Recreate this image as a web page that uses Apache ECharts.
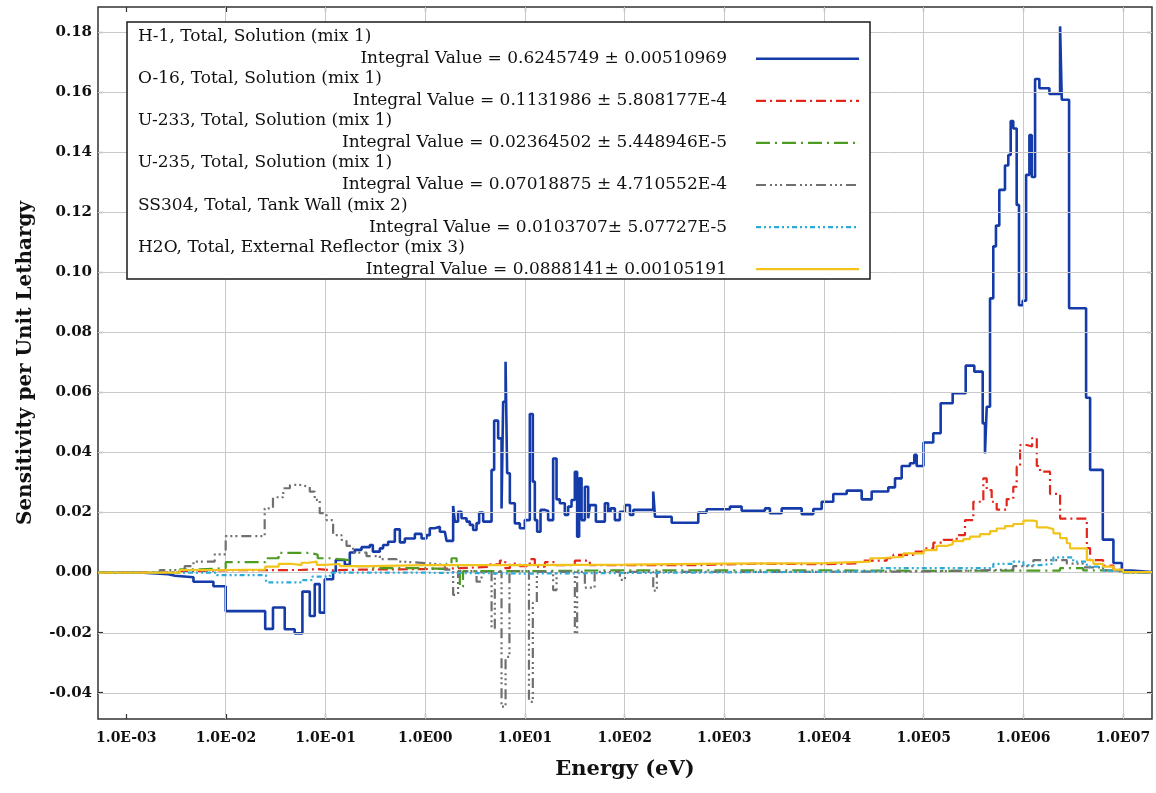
<!DOCTYPE html>
<html>
<head>
<meta charset="utf-8">
<script src="https://cdn.jsdelivr.net/npm/echarts/dist/echarts.min.js"></script>
<style>
html,body{margin:0;padding:0;background:#ffffff;}
#chart{width:1156px;height:793px;}
</style>
</head>
<body>
<div id="chart"></div>
<script>
// ---------- tick values / labels ----------
const energyTickExponents = [-3, -2, -1, 0, 1, 2, 3, 4, 5, 6, 7];
const energyTicks = [1e-3, 1e-2, 1e-1, 1e0, 1e1, 1e2, 1e3, 1e4, 1e5, 1e6, 1e7];
const energyTickLabels = ['1.0E-03','1.0E-02','1.0E-01','1.0E00','1.0E01','1.0E02','1.0E03','1.0E04','1.0E05','1.0E06','1.0E07'];
const sensTicks = [-0.04, -0.02, 0, 0.02, 0.04, 0.06, 0.08, 0.10, 0.12, 0.14, 0.16, 0.18];
const sensTickLabels = ['-0.04','-0.02','0.00','0.02','0.04','0.06','0.08','0.10','0.12','0.14','0.16','0.18'];

// ---------- legend texts ----------
const seriesNames = [
  'H-1, Total, Solution (mix 1)',
  'O-16, Total, Solution (mix 1)',
  'U-233, Total, Solution (mix 1)',
  'U-235, Total, Solution (mix 1)',
  'SS304, Total, Tank Wall (mix 2)',
  'H2O, Total, External Reflector (mix 3)'
];
const integralTexts = [
  'Integral Value = 0.6245749 \u00b1 0.00510969',
  'Integral Value = 0.1131986 \u00b1 5.808177E-4',
  'Integral Value = 0.02364502 \u00b1 5.448946E-5',
  'Integral Value = 0.07018875 \u00b1 4.710552E-4',
  'Integral Value = 0.0103707\u00b1 5.07727E-5',
  'Integral Value = 0.0888141\u00b1 0.00105191'
];

// ---------- data: [energy (eV), sensitivity per unit lethargy] (group lower edge, value) ----------
const h1 = [
[5.24e-4,0.0],[1.5e-3,-0.0005],[2.66e-3,-0.001],[3.1e-3,-0.0015],[4.75e-3,-0.003],[7.53e-3,-0.0045],
[1.0e-2,-0.0128],[2.49e-2,-0.0187],[2.98e-2,-0.0116],[3.91e-2,-0.0188],[4.92e-2,-0.0202],[5.88e-2,-0.0063],
[6.97e-2,-0.0144],[7.82e-2,-0.0038],[8.77e-2,-0.0133],[9.85e-2,-0.0022],[0.1195,0.0003],[0.127,0.0042],
[0.1566,0.0026],[0.1757,0.0067],[0.1972,0.0076],[0.2302,0.0085],[0.279,0.0092],[0.299,0.0070],
[0.3515,0.0081],[0.379,0.0092],[0.4256,0.0103],[0.497,0.0144],[0.558,0.0101],[0.626,0.0114],
[0.789,0.0129],[0.921,0.0114],[1.033,0.0125],[1.114,0.0148],[1.25,0.0153],[1.405,0.0136],
[1.577,0.0142],[1.64,0.0106],[1.91,0.0222],[1.986,0.0170],[2.143,0.0203],[2.318,0.0181],
[2.603,0.0170],[2.809,0.0159],[3.03,0.0142],[3.28,0.0165],[3.483,0.0200],[3.819,0.0170],
[4.637,0.0342],[4.925,0.0506],[5.40,0.0447],[5.843,0.0214],[6.062,0.0569],[6.41,0.0702],
[6.65,0.0331],[7.076,0.0231],[7.94,0.0164],[8.91,0.0148],[10.0,0.0175],[11.22,0.0528],
[12.03,0.0303],[12.6,0.0175],[13.29,0.0136],[14.37,0.0209],[15.87,0.0205],[17.13,0.0175],
[19.23,0.0380],[20.8,0.0244],[22.44,0.0231],[25.19,0.0192],[27.19,0.0220],[29.41,0.0242],
[31.74,0.0336],[33.47,0.0120],[35.06,0.0314],[37.07,0.0175],[40.0,0.0286],[43.17,0.0181],
[44.9,0.0225],[51.6,0.0170],[63.5,0.0231],[68.5,0.0203],[72.4,0.0214],[80.0,0.0175],
[89.8,0.0203],[101,0.0225],[113.3,0.0192],[122.3,0.0209],[194,0.0270],[202,0.0186],
[297,0.0166],[549,0.0200],[666,0.0211],[1141,0.0220],[1495,0.0206],[2560,0.0214],
[2874,0.0198],[3766,0.0214],[5978,0.0195],[7816,0.0212],[9489,0.0236],[1.24e4,0.0262],
[1.69e4,0.0273],[2.39e4,0.0244],[3.01e4,0.0270],[4.42e4,0.0284],[5.16e4,0.0314],[6.02e4,0.0355],
[7.29e4,0.0364],[8.05e4,0.0392],[8.51e4,0.0355],[9.96e4,0.0433],[1.248e5,0.0464],[1.481e5,0.0564],
[1.954e5,0.0597],[2.64e5,0.0689],[3.22e5,0.0669],[3.91e5,0.0497],[4.12e5,0.0397],[4.29e5,0.0552],
[4.63e5,0.0913],[4.99e5,0.1086],[5.31e5,0.1155],[5.735e5,0.1274],[6.54e5,0.1355],[7.06e5,0.1390],
[7.46e5,0.1503],[7.92e5,0.1478],[8.57e5,0.1224],[9.04e5,0.0890],[9.84e5,0.0905],[1.065e6,0.1324],
[1.149e6,0.1456],[1.214e6,0.1317],[1.31e6,0.1643],[1.447e6,0.1612],[1.824e6,0.1593],[2.334e6,0.1818],
[2.428e6,0.1574],[2.874e6,0.0880],[4.256e6,0.0582],[4.67e6,0.0342],[6.26e6,0.0110],[8.0e6,0.0032],
[9.71e6,0.0007],[1.223e7,0.0002],[1.95e7,0.0002]
];
const o16 = [
[5.24e-4,0],[2.37e-3,0.0005],[4.36e-3,0.0008],[1e-2,0.0009],[5.53e-2,0.0012],[8.18e-2,0.0008],
[0.1186,0.0010],[0.2213,0.0012],[1.0,0.0015],[2.23,0.0020],[4.46,0.0028],[5.62,0.0040],
[6.36,0.0015],[7.08,0.0030],[8.9,0.0022],[11.2,0.0045],[12.6,0.0020],[15.9,0.0035],
[20,0.0025],[31.7,0.0040],[44.9,0.0025],[101,0.0025],[571,0.0030],[2281,0.0028],
[1e4,0.0031],[2.3e4,0.0040],[4.26e4,0.0048],[4.96e4,0.0059],[7.87e4,0.0070],[1e5,0.0081],
[1.25e5,0.0100],[1.574e5,0.0109],[2.144e5,0.0125],[2.596e5,0.0175],[3.148e5,0.0236],[3.968e5,0.0314],
[4.29e5,0.0275],[4.81e5,0.0236],[5.4e5,0.0210],[6.8e5,0.0245],[7.92e5,0.0286],[8.57e5,0.0353],
[9.27e5,0.0425],[1.082e6,0.0420],[1.223e6,0.0448],[1.363e6,0.0355],[1.47e6,0.0336],[1.85e6,0.0262],
[2.334e6,0.0180],[4.33e6,0.0082],[4.67e6,0.0042],[6.3e6,0.0024],[8.0e6,0.0010],[1e7,0.0002],[1.95e7,0.0002]
];
const u233 = [
[5.24e-4,0],[3.46e-3,0.0011],[5.49e-3,0.0015],[1e-2,0.0035],[2.49e-2,0.0048],[3.39e-2,0.0066],
[6.97e-2,0.0060],[8.37e-2,0.0048],[0.1107,0.0042],[0.1757,0.0022],[0.279,0.0015],[1,0.0012],
[1.64,0.0030],[1.84,0.0048],[2.07,0.0020],[2.23,-0.0047],[2.4,0.0005],[10,0.0008],
[100,0.0008],[1e4,0.0006],[1e5,0.0007],[2.33e6,0.0015],[3.97e6,0.0008],[8e6,0.0003],[1e7,0],[1.95e7,0]
];
const u235 = [
[5.24e-4,0],[2.18e-3,0.0009],[3.88e-3,0.0022],[4.75e-3,0.0037],[7.76e-3,0.0061],[1.0e-2,0.0122],
[2.46e-2,0.0214],[2.98e-2,0.0251],[3.78e-2,0.0281],[4.41e-2,0.0292],[5.53e-2,0.0286],[6.97e-2,0.0270],
[7.82e-2,0.0242],[8.77e-2,0.0198],[0.1026,0.0175],[0.1195,0.0125],[0.145,0.0109],[0.1628,0.0089],
[0.1896,0.0067],[0.2584,0.0055],[0.3515,0.0045],[0.517,0.0037],[0.58,0.0031],[1.114,0.0026],
[1.577,0.0010],[1.91,-0.0074],[2.14,0.0005],[3.28,-0.0030],[3.68,0.0003],[4.64,-0.0185],
[5.0,0.0003],[5.84,-0.0446],[6.41,-0.0280],[7.01,0.0005],[11.0,-0.0430],[12.03,-0.0100],
[13.2,0.0003],[19.23,-0.0058],[20.8,0.0003],[31.74,-0.0202],[33.47,0.0003],[40,-0.0050],
[50.1,0.0003],[89.8,-0.0024],[101,0.0003],[194,-0.0060],[211,0.0003],[1e4,0.0004],
[1e5,0.0010],[7.92e5,0.0022],[1.26e6,0.0042],[2.725e6,0.0030],[3.97e6,0.0018],[6.3e6,0.0008],[1e7,0],[1.95e7,0]
];
const ss304 = [
[5.24e-4,0],[8.13e-3,-0.0008],[2.54e-2,-0.0032],[5.92e-2,-0.0025],[7.41e-2,-0.0013],[0.1107,0],
[1,-0.0003],[10,0.0003],[1e4,0.0005],[3.65e4,0.0015],[4.99e5,0.0029],[7.92e5,0.0037],
[1e6,0.0025],[1.47e6,0.0030],[2e6,0.0051],[3.16e6,0.0037],[4.33e6,0.0020],[6.3e6,0.0007],[1e7,0],[1.95e7,0]
];
const h2o = [
[5.24e-4,0],[3.46e-3,0.0009],[1e-2,0.0010],[2.49e-2,0.0020],[3.39e-2,0.0029],[4.72e-2,0.0025],
[5.75e-2,0.0033],[6.76e-2,0.0037],[8.18e-2,0.0026],[9.85e-2,0.0029],[0.1394,0.0022],[0.279,0.0025],
[1,0.0025],[10,0.0027],[100,0.0030],[1000,0.0032],[1e4,0.0037],[2.9e4,0.0048],
[3.65e4,0.0053],[6.25e4,0.0064],[1e5,0.0075],[1.35e5,0.0089],[1.7e5,0.0095],[1.96e5,0.0105],
[2.5e5,0.0112],[2.91e5,0.0120],[3.67e5,0.0128],[4.63e5,0.0138],[5.4e5,0.0147],[6.54e5,0.0155],
[7.92e5,0.0162],[1e6,0.0173],[1.26e6,0.0172],[1.363e6,0.0151],[1.714e6,0.0145],[2e6,0.0131],
[2.334e6,0.0115],[2.725e6,0.0098],[2.94e6,0.0081],[4.33e6,0.0042],[5.04e6,0.0029],[6.3e6,0.0020],
[8e6,0.0010],[1e7,0.0002],[1.95e7,0.0002]
];

const seriesData = [h1, o16, u233, u235, ss304, h2o];
const seriesColors = ['#143ba8', '#e3261b', '#4c9c24', '#707070', '#2eaad8', '#f2c31a'];
const seriesWidths = [2.6, 2.2, 2.2, 2.2, 2.2, 2.2];
const seriesDash = ['solid', [10, 4, 2, 4], [14, 5, 2, 5], [10, 4, 2, 3, 2, 3, 2, 4], [5, 3, 2, 3, 2, 3], 'solid'];

// ---------- geometry ----------
const W = 1156, H = 793;
const frame = { left: 98, right: 1152, top: 7, bottom: 719 };
const tickBox = { left: 126.3, right: 1123, top: 31.8, bottom: 692.7 };
const FONT = '"DejaVu Serif", "Liberation Serif", serif';

const chart = echarts.init(document.getElementById('chart'), null, { renderer: 'canvas' });

const series = [];
// gridlines (drawn through the frame axes)
series.push({
  type: 'line', xAxisIndex: 0, yAxisIndex: 0, data: [], silent: true, z: 1,
  markLine: {
    silent: true, symbol: 'none', animation: false,
    label: { show: false },
    lineStyle: { color: '#c9c9c9', width: 1, type: 'solid' },
    data: energyTicks.map(e => ({ xAxis: e })).concat(sensTicks.map(v => ({ yAxis: v })))
  }
});
seriesData.forEach((d, i) => {
  series.push({
    type: 'line', name: seriesNames[i], data: d, step: 'end',
    xAxisIndex: 0, yAxisIndex: 0, showSymbol: false, symbol: 'none',
    lineStyle: { color: seriesColors[i], width: seriesWidths[i], type: seriesDash[i] },
    z: 3 + i, animation: false
  });
});

// legend box
const LEG_FONT = '17px ' + FONT;
const legendElems = [{
  type: 'rect', shape: { x: 127, y: 22, width: 743, height: 257 },
  style: { fill: '#ffffff', stroke: '#1a1a1a', lineWidth: 1.5 }, z: 100
}];
seriesNames.forEach((n, i) => {
  const y0 = 36.7 + 42.1 * i;
  legendElems.push({
    type: 'text', z: 101,
    style: { text: n, x: 138, y: y0, font: LEG_FONT, fill: '#111',
      textAlign: 'left', align: 'left', textVerticalAlign: 'middle', verticalAlign: 'middle' }
  });
  legendElems.push({
    type: 'text', z: 101,
    style: { text: integralTexts[i], x: 727, y: y0 + 22, font: LEG_FONT, fill: '#111',
      textAlign: 'right', align: 'right', textVerticalAlign: 'middle', verticalAlign: 'middle' }
  });
  legendElems.push({
    type: 'line', z: 101,
    shape: { x1: 756, y1: y0 + 22, x2: 859, y2: y0 + 22 },
    style: { stroke: seriesColors[i], lineWidth: seriesWidths[i],
      lineDash: Array.isArray(seriesDash[i]) ? seriesDash[i] : null }
  });
});

const tickLabelFont = { fontFamily: FONT, fontWeight: 'bold', color: '#111' };
const tickStyle = { show: true, inside: true, length: 5, lineStyle: { color: '#333', width: 1.2 } };
const hiddenLine = { show: false, onZero: false };
const expMin = energyTickExponents[0], expMax = energyTickExponents[energyTickExponents.length - 1];

const option = {
  backgroundColor: '#ffffff',
  animation: false,
  grid: [
    { left: frame.left, right: W - frame.right, top: frame.top, bottom: H - frame.bottom,
      show: true, borderColor: '#333', borderWidth: 1.5, backgroundColor: 'transparent' },
    { left: tickBox.left, right: W - tickBox.right, top: tickBox.top, bottom: H - tickBox.bottom, show: false }
  ],
  xAxis: [
    { type: 'log', logBase: 10, gridIndex: 0, min: 5.24e-4, max: 1.95e7,
      axisLine: hiddenLine, axisTick: { show: false }, axisLabel: { show: false }, splitLine: { show: false },
      name: 'Energy (eV)', nameLocation: 'middle', nameGap: 40,
      nameTextStyle: { fontFamily: FONT, fontWeight: 'bold', fontSize: 21, color: '#111' } },
    // decade labels: axis over log10(E), one tick per decade
    { type: 'value', gridIndex: 1, min: expMin, max: expMax, interval: 1,
      position: 'bottom', offset: frame.bottom - tickBox.bottom,
      axisLine: hiddenLine, splitLine: { show: false }, axisTick: tickStyle,
      axisLabel: { show: true, interval: 0, margin: 12, fontSize: 14, ...tickLabelFont,
        formatter: v => { const k = energyTickExponents.indexOf(Math.round(v)); return k >= 0 ? energyTickLabels[k] : ''; } } },
    { type: 'value', gridIndex: 1, min: expMin, max: expMax, interval: 1,
      position: 'top', offset: tickBox.top - frame.top,
      axisLine: hiddenLine, splitLine: { show: false }, axisLabel: { show: false }, axisTick: tickStyle }
  ],
  yAxis: [
    { type: 'value', gridIndex: 0, min: -0.04869, max: 0.18825,
      axisLine: hiddenLine, axisTick: { show: false }, axisLabel: { show: false }, splitLine: { show: false },
      name: 'Sensitivity per Unit Lethargy', nameLocation: 'middle', nameGap: 62,
      nameTextStyle: { fontFamily: FONT, fontWeight: 'bold', fontSize: 20, color: '#111' } },
    { type: 'value', gridIndex: 1, min: sensTicks[0], max: sensTicks[sensTicks.length - 1], interval: 0.02,
      position: 'left', offset: tickBox.left - frame.left,
      axisLine: hiddenLine, splitLine: { show: false }, axisTick: tickStyle,
      axisLabel: { show: true, margin: 6, fontSize: 15, ...tickLabelFont,
        formatter: v => { const k = sensTicks.findIndex(t => Math.abs(t - v) < 1e-9); return k >= 0 ? sensTickLabels[k] : ''; } } },
    { type: 'value', gridIndex: 1, min: sensTicks[0], max: sensTicks[sensTicks.length - 1], interval: 0.02,
      position: 'right', offset: frame.right - tickBox.right,
      axisLine: hiddenLine, splitLine: { show: false }, axisLabel: { show: false }, axisTick: tickStyle }
  ],
  series: series,
  graphic: { elements: legendElems }
};

chart.setOption(option);
</script>
</body>
</html>
